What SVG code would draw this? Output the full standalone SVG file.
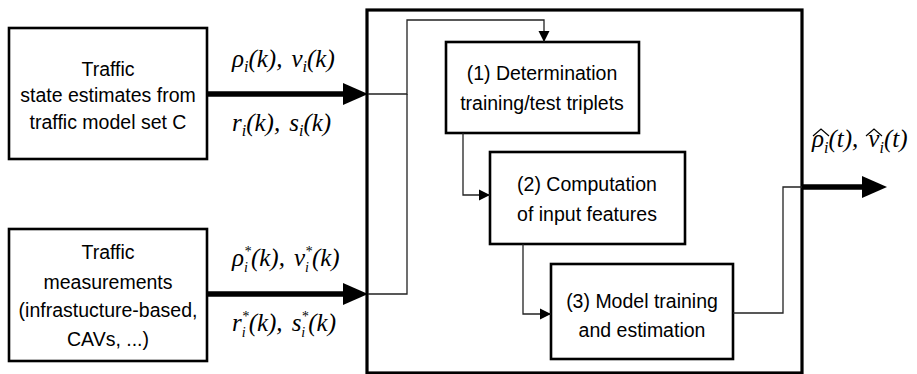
<svg xmlns="http://www.w3.org/2000/svg" width="917" height="374" viewBox="0 0 917 374">
<style>
.box{fill:#fff;stroke:#000;stroke-width:2.6}
.big{fill:none;stroke:#000;stroke-width:3.2}
.t{font-family:"Liberation Sans",Arial,sans-serif;font-size:19.5px;fill:#000;text-anchor:middle}
.m{font-family:"Liberation Serif","Times New Roman",serif;font-style:italic;font-size:25px;fill:#000}
.sub{font-size:16px}
.ss{font-size:14px}
.thin{fill:none;stroke:#222;stroke-width:1.3}
.thick{fill:none;stroke:#000;stroke-width:5.5}
.hat{fill:none;stroke:#000;stroke-width:1.2}
</style>
<defs>
<marker id="ah" markerWidth="12" markerHeight="12" refX="11" refY="6" orient="auto" markerUnits="userSpaceOnUse">
<path d="M0,0.5 L11,6 L0,11.5 Z" fill="#000"/>
</marker>
</defs>
<rect width="917" height="374" fill="#fff"/>
<g id="system">
<rect class="big" x="367" y="10" width="435" height="363"/>
</g>
<g id="input-model">
<rect class="box" x="9" y="28" width="198" height="131"/>
<text class="t" x="108" y="76">Traffic</text>
<text class="t" x="108" y="102">state estimates from</text>
<text class="t" x="108" y="129">traffic model set C</text>
</g>
<g id="input-meas">
<rect class="box" x="9" y="229" width="198" height="132"/>
<text class="t" x="108" y="259">Traffic</text>
<text class="t" x="108" y="289">measurements</text>
<text class="t" x="108" y="317">(infrastucture-based,</text>
<text class="t" x="108" y="346">CAVs, ...)</text>
</g>
<g id="step1">
<rect class="box" x="446" y="42" width="193" height="91"/>
<text class="t" x="542" y="80">(1) Determination</text>
<text class="t" x="542" y="110">training/test triplets</text>
</g>
<g id="step2">
<rect class="box" x="490" y="152" width="195" height="92"/>
<text class="t" x="587" y="191">(2) Computation</text>
<text class="t" x="587" y="221">of input features</text>
</g>
<g id="step3">
<rect class="box" x="551" y="264" width="182" height="95"/>
<text class="t" x="642" y="308">(3) Model training</text>
<text class="t" x="642" y="337">and estimation</text>
</g>
<g id="connectors">
<path class="thick" d="M207,94 H345"/>
<path d="M343,83 L368,94 L343,105 Z" fill="#000"/>
<path class="thick" d="M207,294 H345"/>
<path d="M343,283 L368,294 L343,305 Z" fill="#000"/>
<path class="thin" d="M368,94 H407 V20 H544 V42" marker-end="url(#ah)"/>
<path class="thin" d="M368,294 H407 V94"/>
<path class="thin" d="M463,133 V195 H490" marker-end="url(#ah)"/>
<path class="thin" d="M523,244 V314 H551" marker-end="url(#ah)"/>
<path class="thin" d="M733,313 H783 V187 H802"/>
<path class="thick" d="M802,187 H864"/>
<path d="M862,176 L887,187 L862,198 Z" fill="#000"/>
</g>
<g id="labels">
<text class="m" x="232" y="67">ρ<tspan class="sub" dy="5">i</tspan><tspan dy="-5">(k),</tspan><tspan dx="9">v</tspan><tspan class="sub" dy="5">i</tspan><tspan dy="-5">(k)</tspan></text>
<text class="m" x="232" y="131">r<tspan class="sub" dy="5">i</tspan><tspan dy="-5">(k),</tspan><tspan dx="9">s</tspan><tspan class="sub" dy="5">i</tspan><tspan dy="-5">(k)</tspan></text>
<text class="m" x="232" y="266">ρ<tspan class="ss" dy="-10">*</tspan><tspan class="ss" dx="-7" dy="16">i</tspan><tspan dx="3" dy="-6">(k),</tspan><tspan dx="9">v</tspan><tspan class="ss" dy="-10">*</tspan><tspan class="ss" dx="-7" dy="16">i</tspan><tspan dx="3" dy="-6">(k)</tspan></text>
<text class="m" x="232" y="331">r<tspan class="ss" dy="-10">*</tspan><tspan class="ss" dx="-7" dy="16">i</tspan><tspan dx="3" dy="-6">(k),</tspan><tspan dx="9">s</tspan><tspan class="ss" dy="-10">*</tspan><tspan class="ss" dx="-7" dy="16">i</tspan><tspan dx="3" dy="-6">(k)</tspan></text>
<text class="m" x="812" y="147">ρ<tspan class="sub" dy="6">i</tspan><tspan dy="-6">(t),</tspan><tspan dx="10">v</tspan><tspan class="sub" dy="6">i</tspan><tspan dy="-6">(t)</tspan></text>
<path class="hat" d="M813,136 L821,129 L829,136"/>
<path class="hat" d="M866,136 L874,129 L882,136"/>
</g>
</svg>
